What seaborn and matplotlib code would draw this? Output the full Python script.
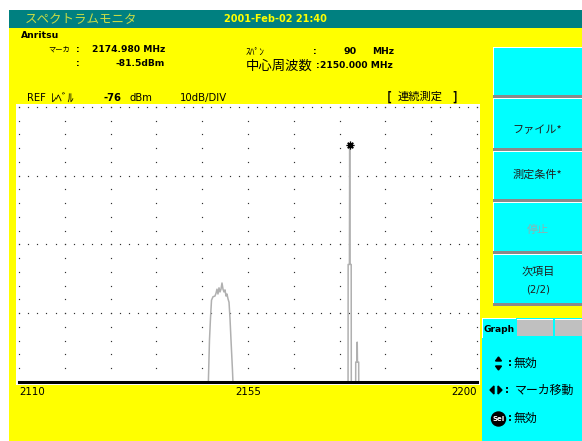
import numpy as np
import matplotlib
matplotlib.use("Agg")
import matplotlib.pyplot as plt
from matplotlib.patches import Rectangle, Circle, Polygon
import seaborn as sns

sns.set_theme(style="white")
plt.rcParams["font.family"] = ["DejaVu Sans", "Noto Sans CJK JP"]

# ---- spectrum trace (MHz, dBm) ----
freq_mhz = [2110.0, 2147.14, 2147.43, 2147.63, 2147.83, 2148.12, 2148.51, 2148.71,
            2148.90, 2149.10, 2149.30, 2149.50, 2149.69, 2149.89, 2150.09, 2150.28,
            2150.48, 2150.68, 2150.87, 2151.07, 2151.27, 2151.46, 2151.66, 2151.95,
            2152.15,
            2174.66, 2174.68, 2174.93, 2174.98, 2175.03, 2175.28, 2175.30,
            2176.15, 2176.17, 2176.41, 2176.46, 2176.51, 2176.75, 2176.77,
            2200.0]
level_dbm = [-118, -118, -109.9, -106.7, -104.1, -103.6, -103.5, -103.1,
             -102.5, -103.2, -102.3, -102.9, -102.5, -101.6, -102.5, -102.9,
             -102.6, -103.5, -103.2, -103.9, -104.4, -106.7, -109.9, -114.3,
             -118,
             -118, -98.9, -98.9, -81.5, -98.9, -98.9, -118,
             -118, -113.1, -113.1, -110.2, -113.1, -113.1, -118,
             -118]

marker_freq = 2174.98
marker_level = -81.5
span_mhz = 90
center_mhz = 2150.0
ref_level = -76
db_per_div = 10
n_div_y = 4
x_ticks = [2110, 2155, 2200]
x_tick_labels = ["2110", "2155", "2200"]

W, H = 582, 441
YELLOW = "#ffff00"
CYAN = "#00ffff"
TEAL = "#008080"

fig = plt.figure(figsize=(W / 100, H / 100), dpi=100)
fig.patch.set_facecolor("white")

# background canvas in pixel units (y downwards)
bg = fig.add_axes([0, 0, 1, 1], zorder=0)
bg.set_xlim(0, W)
bg.set_ylim(H, 0)
bg.axis("off")


def rect(x0, y0, x1, y1, color):
    bg.add_patch(Rectangle((x0, y0), x1 - x0, y1 - y0, facecolor=color,
                           edgecolor="none", linewidth=0))


def txt(x, y, s, size, ha="left", bold=False, color="black", jp=False):
    fam = ["Noto Sans CJK JP", "DejaVu Sans"] if jp else ["DejaVu Sans", "Noto Sans CJK JP"]
    bg.text(x, y, s, fontsize=size, ha=ha, va="center", color=color,
            fontweight="bold" if bold else "normal", family=fam)


# title bar
rect(9, 10, W, 28, TEAL)
txt(25, 19, "スペクトラムモニタ", 9, color="#c8dc46", jp=True)
txt(224, 19, "2001-Feb-02 21:40", 7, bold=True, color=YELLOW)

# main yellow body
rect(9, 28, W, H, YELLOW)
txt(21, 35, "Anritsu", 6.7, bold=True)

txt(48, 50, "マーカ", 5.2, jp=True)
txt(76, 50, ":", 6.6, bold=True)
txt(92, 50, f"{marker_freq:.3f} MHz", 6.6, bold=True)
txt(76, 63, ":", 6.6, bold=True)
txt(165, 63, f"{marker_level:.1f}dBm", 6.6, bold=True, ha="right")

txt(246, 52, "ｽﾊﾟﾝ", 6.8, jp=True)
txt(313, 51, ":", 6.6, bold=True)
txt(357, 52, f"{span_mhz}", 6.8, bold=True, ha="right")
txt(372, 52, "MHz", 6.6, bold=True)
txt(246, 66, "中心周波数", 9.6, jp=True)
txt(316, 65, ":", 6.6, bold=True)
txt(320, 65, f"{center_mhz:.3f} MHz", 6.6, bold=True)

txt(27, 98, "REF", 7.2)
txt(51, 98, "ﾚﾍﾞﾙ", 8.5, jp=True)
txt(104, 98, f"{ref_level}", 7.2, bold=True)
txt(130, 98, "dBm", 7.2)
txt(180, 98, f"{db_per_div}dB/DIV", 7.3)
txt(387, 97, "[", 9, jp=True, bold=True)
txt(420, 97, "連続測定", 8.1, ha="center", jp=True)
txt(452, 97, "]", 9, jp=True, bold=True)

# white trace area
rect(16, 104, 480, 385, "white")

# soft-key buttons
buttons = [(47, 95), (98, 148), (151, 199), (202, 251), (254, 303)]
for top, bot in buttons:
    rect(493, top, W, bot, CYAN)
    rect(493, bot, W, bot + 2.5, "#8a8a8a")
    rect(493, top, W, top + 1, "white")
    rect(493, top, 494, bot, "white")

btn_color = "#202020"
txt(537, 130, "ファイル*", 8, ha="center", jp=True, color=btn_color)
txt(537, 175, "測定条件*", 8, ha="center", jp=True, color=btn_color)
txt(538, 230, "停止", 8, ha="center", jp=True, color="#8fb0b0")
txt(538, 272, "次項目", 8, ha="center", jp=True, color=btn_color)
txt(538, 289, "(2/2)", 7.2, ha="center", color=btn_color)

# lower-right panel with tabs
rect(482, 318, W, H, CYAN)
rect(482, 318, 516, 319, "white")
rect(482, 318, 483, 338, "white")
rect(517, 319, 553, 336, "#c0c0c0")
rect(517, 319, 553, 320, "white")
rect(555, 319, W, 336, "#c0c0c0")
rect(555, 319, W, 320, "white")
txt(484, 329, "Graph", 6.6, bold=True)

bg.add_patch(Polygon([[495.5, 361], [501.5, 361], [498.5, 357]], closed=True, color="black"))
bg.add_patch(Polygon([[495.5, 366], [501.5, 366], [498.5, 370]], closed=True, color="black"))
txt(508, 363, ":", 7, bold=True)
txt(514, 363, "無効", 8.6, jp=True)

bg.add_patch(Polygon([[494, 386], [494, 394], [490, 390]], closed=True, color="black"))
bg.add_patch(Polygon([[498, 386], [498, 394], [502, 390]], closed=True, color="black"))
txt(505, 390, ":", 7, bold=True)
txt(515, 390, "マーカ移動", 8.6, jp=True)

bg.add_patch(Circle((498.5, 419), 7, color="black"))
bg.text(498.5, 419, "Sel", fontsize=5, color="white", fontweight="bold",
        ha="center", va="center")
txt(508, 418, ":", 7, bold=True)
txt(514, 418, "無効", 8.6, jp=True)

# ---- spectrum axes ----
x0, x1, y0, y1 = 19, 477, 107, 382
ax = fig.add_axes([x0 / W, 1 - y1 / H, (x1 - x0) / W, (y1 - y0) / H], zorder=2)
ax.set_facecolor("none")

y_lo = ref_level - n_div_y * db_per_div
x_lo, x_hi = x_ticks[0], x_ticks[-1]

# dotted graticule
vx = np.linspace(x_lo, x_hi, 11)
vy = np.arange(y_lo, ref_level + 0.1, db_per_div / 5)
GX, GY = np.meshgrid(vx, vy)
ax.plot(GX.ravel(), GY.ravel(), ls="none", marker="s", ms=0.85, mew=0,
        color="#303030", clip_on=False, zorder=1)
hx = np.arange(x_lo, x_hi + 0.01, (x_hi - x_lo) / 50)
hy = np.arange(ref_level, y_lo + 1, -db_per_div)[:n_div_y]
HX, HY = np.meshgrid(hx, hy)
ax.plot(HX.ravel(), HY.ravel(), ls="none", marker="s", ms=0.85, mew=0,
        color="#303030", clip_on=False, zorder=1)

sns.lineplot(x=freq_mhz, y=level_dbm, estimator=None, sort=False,
             color="#b0b0b0", linewidth=1.1, ax=ax, zorder=3)
ax.plot([marker_freq], [marker_level], ls="none", marker=(8, 2, 0), ms=5.5,
        mew=0.9, color="black", zorder=5, clip_on=False)

ax.set_xlim(x_lo, x_hi)
ax.set_ylim(y_lo, ref_level)
ax.set_xlabel("")
ax.set_ylabel("")
ax.set_yticks([])
ax.set_xticks(x_ticks)
ax.set_xticklabels(x_tick_labels)
ax.tick_params(axis="x", length=0, pad=3.5, labelsize=7.4, labelcolor="black")
labels = ax.get_xticklabels()
labels[0].set_ha("left")
labels[-1].set_ha("right")
for side in ["top", "left", "right"]:
    ax.spines[side].set_visible(False)
ax.spines["bottom"].set_color("black")
ax.spines["bottom"].set_linewidth(2.2)
ax.spines["bottom"].set_zorder(6)

fig.savefig("out.png", dpi=100)
